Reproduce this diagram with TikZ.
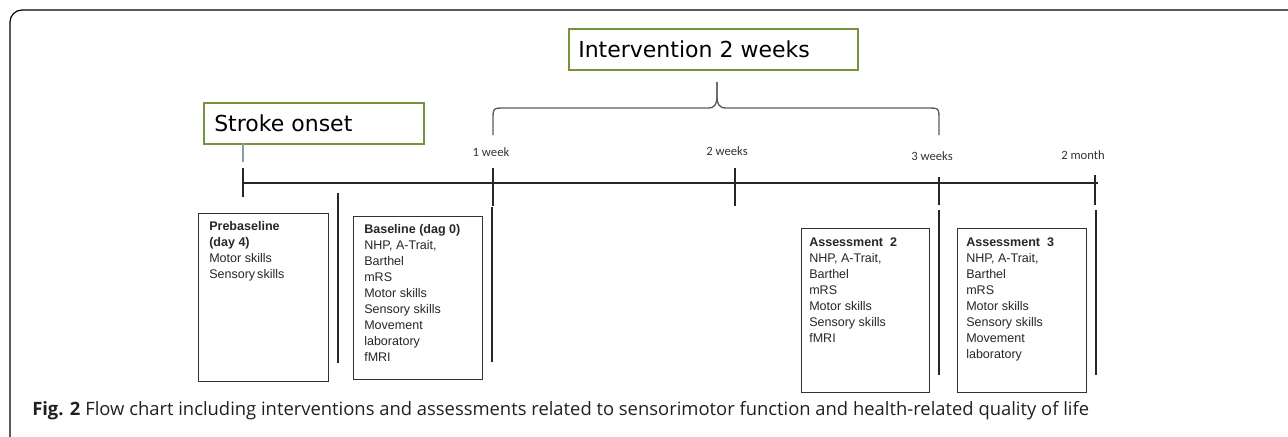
\documentclass[tikz,border=0pt]{standalone}
\usepackage{fontspec}
\setmainfont{Liberation Sans}
\newfontfamily\capfont{Open Sans}
\newfontfamily\lblfont{Carlito}
\newfontfamily\titfont{DejaVu Sans}
\definecolor{olive}{HTML}{76923C}
\definecolor{bracegray}{HTML}{5A5A5A}
\definecolor{stemgray}{HTML}{8A9BA8}
\definecolor{captxt}{HTML}{231F20}
\begin{document}
\begin{tikzpicture}[x=0.75pt,y=-0.75pt,
  titlebox/.style={draw=olive,line width=1.6pt,fill=white,inner sep=0pt,anchor=north west},
  titletext/.style={font=\titfont\fontsize{16.5}{18}\selectfont,anchor=base west,inner sep=0pt},
  infobox/.style={draw=black!80,line width=0.9pt,inner sep=0pt,anchor=north west},
  infotext/.style={font=\fontsize{9.4}{12}\selectfont,align=left,anchor=north west,inner sep=0pt,text=black!85},
  lbl/.style={font=\lblfont\fontsize{9.5}{11}\selectfont,inner sep=0pt,text=black!80},
  tline/.style={line width=0.8pt,black!85},
  brace/.style={line width=1pt,bracegray}]
\useasboundingbox (0,0) rectangle (1288,436);
% frame
\draw[line width=0.9pt,rounded corners=9pt] (10,440) -- (10,10) -- (1292,10);
% title boxes
\node[titlebox,minimum width=220*0.75pt,minimum height=41*0.75pt] (so) at (203,102) {};
\node[titletext] (sot) at (214,131) {Stroke onset};
\node[titlebox,minimum width=289*0.75pt,minimum height=41*0.75pt] (iv) at (568,28) {};
\node[titletext] (ivt) at (578,57) {Intervention 2 weeks};
% timeline
\coordinate (t0) at (243,183);
\coordinate (t1) at (1098,183);
\draw[tline] (t0) -- (t1);
% stroke onset stem
\coordinate (s0) at (243,143);
\coordinate (s1) at (243,162);
\coordinate (s2) at (243,168);
\coordinate (s3) at (243,197);
\draw[stemgray,line width=0.8pt] (s0) -- (s1);
\draw[tline] (s2) -- (s3);
% ticks
\coordinate (w1a) at (493,168); \coordinate (w1b) at (493,206);
\coordinate (w1c) at (492,207); \coordinate (w1d) at (492,362);
\draw[tline] (w1a) -- (w1b); \draw[tline] (w1c) -- (w1d);
\coordinate (w2a) at (735,168); \coordinate (w2b) at (735,206);
\draw[tline] (w2a) -- (w2b);
\coordinate (w3a) at (939,177); \coordinate (w3b) at (939,205);
\coordinate (w3c) at (939,210); \coordinate (w3d) at (939,375);
\draw[tline] (w3a) -- (w3b); \draw[tline] (w3c) -- (w3d);
\coordinate (m2a) at (1095,175); \coordinate (m2b) at (1095,205);
\coordinate (m2c) at (1096,210); \coordinate (m2d) at (1096,375);
\draw[tline] (m2a) -- (m2b); \draw[tline] (m2c) -- (m2d);
\coordinate (p1) at (338,193); \coordinate (p2) at (338,363);
\draw[tline] (p1) -- (p2);
% labels
\node[lbl] (l1) at (491,152) {1 week};
\node[lbl] (l2) at (727,151) {2 weeks};
\node[lbl] (l3) at (932,156) {3 weeks};
\node[lbl] (l4) at (1083,155) {2 month};
% brace
\coordinate (bl) at (493,135);
\coordinate (br) at (939,135);
\coordinate (bt) at (717,82);
\draw[brace] (bl) -- (493,120) .. controls (493,108) .. (505,108) -- (708,108)
  .. controls (715,108) and (717,104) .. (717,96) -- (bt);
\draw[brace] (bt) -- (717,96) .. controls (717,104) and (719,108) .. (726,108) -- (927,108)
  .. controls (939,108) .. (939,120) -- (br);
% info boxes
\node[infobox,minimum width=130*0.75pt,minimum height=168*0.75pt] (pre) at (198,213) {};
\node[infotext] (pret) at (209,219) {\strut\textbf{Prebaseline}\\\textbf{(day 4)}\\Motor skills\\Sensory\hspace{1.5pt}skills};
\node[infobox,minimum width=129*0.75pt,minimum height=163*0.75pt] (base) at (353,216) {};
\node[infotext] (baset) at (364,222) {\strut\textbf{Baseline (dag 0)}\\NHP, A-Trait,\\Barthel\\mRS\\Motor skills\\Sensory skills\\Movement\\laboratory\\fMRI};
\node[infobox,minimum width=128*0.75pt,minimum height=164*0.75pt] (a2) at (801,228) {};
\node[infotext] (a2t) at (809,235) {\strut\textbf{Assessment~~2}\\NHP, A-Trait,\\Barthel\\mRS\\Motor skills\\Sensory skills\\fMRI};
\node[infobox,minimum width=129*0.75pt,minimum height=164*0.75pt] (a3) at (957,228) {};
\node[infotext] (a3t) at (966,235) {\strut\textbf{Assessment~~3}\\NHP, A-Trait,\\Barthel\\mRS\\Motor skills\\Sensory skills\\Movement\\laboratory};
% caption
\node[font=\capfont\fontsize{13.8}{16}\selectfont,text=captxt,anchor=base west,inner sep=0pt] (cap) at (32,415)
  {\textbf{Fig. 2} Flow chart including interventions and assessments related to sensorimotor function and health-related quality of life};
\end{tikzpicture}
\end{document}
